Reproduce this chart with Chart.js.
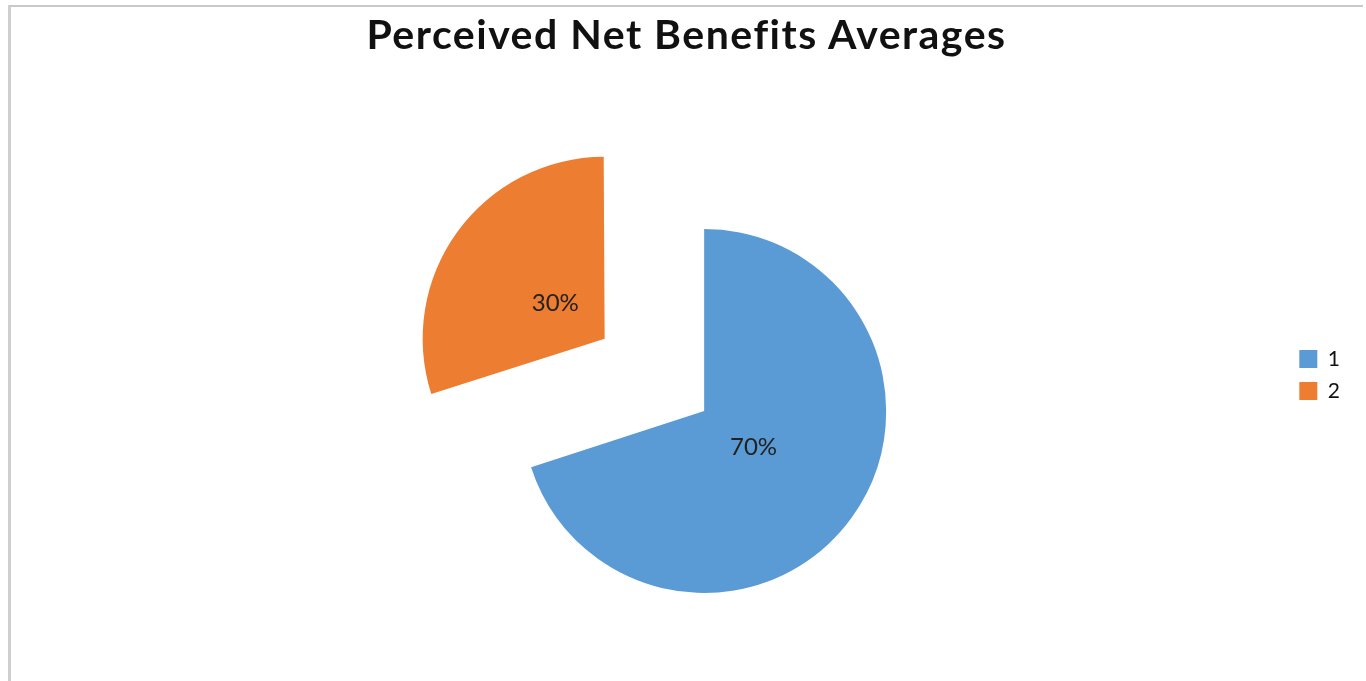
<!DOCTYPE html>
<html>
<head>
<meta charset="utf-8">
<title>Perceived Net Benefits Averages</title>
<script src="https://cdn.jsdelivr.net/npm/chart.js@4/dist/chart.umd.min.js"></script>
<style>
    html, body {
        margin: 0;
        padding: 0;
        background: #fff;
        overflow: hidden;
    }
    #frame {
        position: absolute;
        left: 8px;
        top: 5px;
        width: 1352px;
        height: 700px;
        border-top: 2px solid #c9c9c9;
        border-left: 3px solid #cfcfcf;
    }
    #benefits-chart {
        position: absolute;
        left: 0;
        top: 0;
    }
    #title {
        position: absolute;
        left: 0;
        top: 9px;
        width: 1373px;
        text-align: center;
        font: bold 41px/1.2 Lato, sans-serif;
        letter-spacing: 1.5px;
        color: #111;
    }
</style>
</head>
<body>
<div id="frame"></div>
<canvas id="benefits-chart" width="1366" height="681"></canvas>
<div id="title">Perceived Net Benefits Averages</div>
<script>
var categories = ['1', '2'];
var shares = [70, 30];

// ArcElement grows an exploded slice's radius a little while moving it;
// take that back so both slices keep the same size
var keepRadius = {
    id: 'keepRadius',
    afterDatasetsUpdate: function (chart) {
        chart.getDatasetMeta(0).data.forEach(function (arc) {
            var shift = (arc.options.offset || 0) / 4;
            var fix = 1 - Math.sin(Math.min(Math.PI, arc.circumference || 0));
            arc.outerRadius -= shift * fix;
        });
    }
};

// percentage text in the middle of each slice
var sliceLabels = {
    id: 'sliceLabels',
    afterDatasetsDraw: function (chart) {
        var ctx = chart.ctx;
        var meta = chart.getDatasetMeta(0);
        var total = shares.reduce(function (a, b) { return a + b; }, 0);
        ctx.save();
        ctx.font = '24px Lato';
        ctx.fillStyle = '#222';
        ctx.textAlign = 'center';
        ctx.textBaseline = 'middle';
        meta.data.forEach(function (arc, i) {
            var mid = (arc.startAngle + arc.endAngle) / 2;
            // same move as ArcElement.draw uses for an exploded slice
            var shift = (arc.options.offset || 0) / 4;
            var dist = shift + 61;
            var x = arc.x + Math.cos(mid) * dist;
            var y = arc.y + Math.sin(mid) * dist;
            ctx.fillText(Math.round(shares[i] / total * 100) + '%', x, y);
        });
        ctx.restore();
    }
};

var ctx = document.getElementById('benefits-chart').getContext('2d');
new Chart(ctx, {
    type: 'pie',
    data: {
        labels: categories,
        datasets: [{
            data: shares,
            backgroundColor: ['#5B9BD5', '#ED7D31'],
            borderWidth: 0,
            offset: [0, 492]
        }]
    },
    plugins: [keepRadius, sliceLabels],
    options: {
        responsive: false,
        animation: false,
        radius: 182,
        // string form, so a chart area smaller than the offset does not give NaN
        cutout: '0%',
        layout: {
            padding: {
                top: 337.5,
                bottom: 196.5,
                left: 120,
                right: 16
            }
        },
        plugins: {
            legend: {
                position: 'right',
                align: 'start',
                labels: {
                    boxWidth: 18,
                    boxHeight: 18,
                    padding: 11,
                    color: '#111',
                    font: {
                        family: 'Lato',
                        size: 21
                    }
                }
            },
            tooltip: {
                enabled: false
            }
        }
    }
});
</script>
</body>
</html>
